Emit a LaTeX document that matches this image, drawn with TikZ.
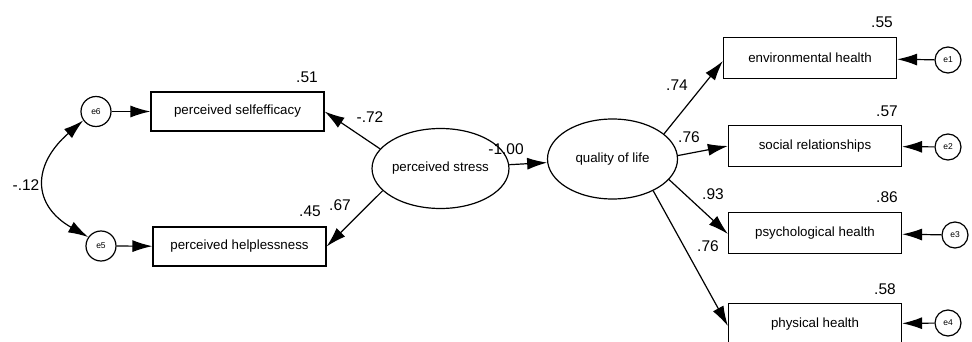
\documentclass[tikz,border=0pt]{standalone}
\usepackage{fontspec}
\setmainfont{Liberation Sans}
\usetikzlibrary{shapes.geometric,arrows.meta}

\begin{document}
\begin{tikzpicture}[x=1pt,y=-1pt,
   box/.style={draw,line width=1.2pt,minimum width=173pt,minimum height=41pt,inner sep=0pt,font=\fontsize{13.3}{15}\selectfont},
   latent/.style={draw,ellipse,line width=1.2pt,minimum width=130pt,minimum height=80pt,inner sep=0pt,font=\fontsize{13.3}{15}\selectfont},
   err/.style={draw,circle,line width=1.2pt,minimum size=26pt,inner sep=0pt,font=\fontsize{8.5}{10}\selectfont},
   val/.style={inner sep=0pt,font=\fontsize{15.5}{18}\selectfont},
   path/.style={line width=1.2pt,-{Latex[length=20pt,width=12pt]}}]
   \useasboundingbox (0,0) rectangle (972,342);
   \node [box,minimum height=39pt] (self) at (237.5,111.5) {perceived selfefficacy};
   \node [box,minimum height=39pt] (help) at (239.5,246.5) {perceived helplessness};
   \node [err,minimum size=30pt] (e6) at (96,111.5) {e6};
   \node [err,minimum size=30pt] (e5) at (101,246) {e5};
   \node [latent] (stress) at (440.5,168.5) {perceived stress};
   \node [latent] (qol) at (612.5,159) {quality of life};
   \node [box] (env) at (810,58) {environmental health};
   \node [box] (social) at (815,146) {social relationships};
   \node [box] (psych) at (815,233) {psychological health};
   \node [box] (phys) at (815,324) {physical health};
   \node [err] (e1) at (948,60) {e1};
   \node [err] (e2) at (948,147) {e2};
   \node [err] (e3) at (955,235) {e3};
   \node [err] (e4) at (948,323) {e4};
   \draw [path] (e6) -- (self);
   \draw [path] (e5) -- (help);
   \draw [line width=1.2pt,{Latex[length=20pt,width=12pt]}-{Latex[length=20pt,width=12pt]}] (e6.215) .. controls (32,165) and (32,205) .. (e5.145);
   \draw [path] (stress.162) -- (self.east);
   \draw [path] (stress.201) -- (help.east);
   \draw [path] (stress) -- (qol);
   \draw [path] (qol.26) -- ([yshift=-3pt]env.west);
   \draw [path] (qol.3) -- (social.west);
   \draw [path] (qol.-20) -- ([yshift=-1pt]psych.west);
   \draw [path] (qol.-38) -- ([yshift=-2pt]phys.west);
   \draw [path] (e1) -- (env);
   \draw [path] (e2) -- (social);
   \draw [path] (e3) -- (psych);
   \draw [path] (e4) -- (phys);
   \node [val] (r51) at (307,77) {.51};
   \node [val] (r45) at (310,211) {.45};
   \node [val] (l67) at (340,205) {.67};
   \node [val] (l72) at (370,117) {-.72};
   \node [val] (l100) at (506,149) {-1.00};
   \node [val] (c12) at (26,185) {-.12};
   \node [val] (r55) at (882,22) {.55};
   \node [val] (l74) at (677,85) {.74};
   \node [val] (r57) at (887,111) {.57};
   \node [val] (l76a) at (689,137) {.76};
   \node [val] (l93) at (713,194) {.93};
   \node [val] (r86) at (887,197) {.86};
   \node [val] (l76b) at (708,246) {.76};
   \node [val] (r58) at (885,289) {.58};
\end{tikzpicture}
\end{document}
